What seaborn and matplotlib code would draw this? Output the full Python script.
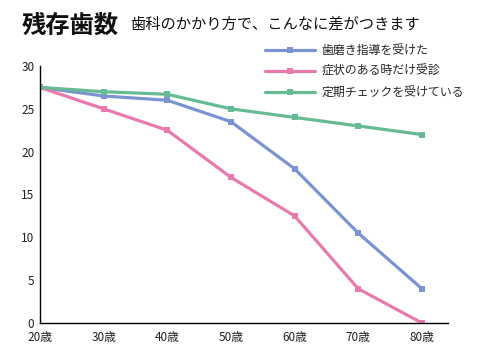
import matplotlib
matplotlib.use("Agg")
import matplotlib.pyplot as plt
import seaborn as sns
import pandas as pd

ages = [20, 30, 40, 50, 60, 70, 80]
age_labels = ["20歳", "30歳", "40歳", "50歳", "60歳", "70歳", "80歳"]
series_names = ["歯磨き指導を受けた", "症状のある時だけ受診", "定期チェックを受けている"]
brushing = [27.5, 26.5, 26.0, 23.5, 18.0, 10.5, 4.0]
symptom_only = [27.5, 25.0, 22.5, 17.0, 12.5, 4.0, 0.0]
regular_check = [27.5, 27.0, 26.7, 25.0, 24.0, 23.0, 22.0]
colors = ["#7b93d0", "#e87aae", "#66bb94"]

sns.set_theme(style="white")
plt.rcParams['font.family'] = ['Noto Sans CJK JP', 'DejaVu Sans']

rows = []
for name, vals in zip(series_names, [brushing, symptom_only, regular_check]):
    for a, v in zip(ages, vals):
        rows.append({"age": a, "teeth": v, "series": name})
df = pd.DataFrame(rows)

fig = plt.figure(figsize=(4.78, 3.46), dpi=100)
ax = fig.add_axes([40/478, 1-323/346, (448-40)/478, (323-66)/346])
sns.lineplot(data=df, x="age", y="teeth", hue="series", hue_order=series_names,
             palette=colors, marker="s", markersize=4.5, markeredgewidth=0,
             linewidth=2.3, ax=ax, legend=True)

ax.set_xlim(20, 84.1)
ax.set_ylim(0, 30)
ax.set_xticks(ages)
ax.set_xticklabels(age_labels)
ax.set_yticks([0, 5, 10, 15, 20, 25, 30])
ax.set_xlabel("")
ax.set_ylabel("")
for s in ["top", "right"]:
    ax.spines[s].set_visible(False)
for s in ["left", "bottom"]:
    ax.spines[s].set_color("black")
    ax.spines[s].set_linewidth(1.0)
ax.tick_params(axis="both", direction="in", length=8, width=1, color="black",
               labelsize=8.5, labelcolor="#222222", pad=4)
ax.tick_params(axis="x", pad=6)

leg = ax.legend(loc="upper left", bbox_to_anchor=(260/478, 1-39/346), bbox_transform=fig.transFigure,
                frameon=False, fontsize=8.6, handlelength=4.2, handletextpad=0.55,
                labelspacing=0.7, borderaxespad=0)
for h in leg.get_lines():
    h.set_linewidth(2.3)

fig.text(22/478, 1-26/346, "残存歯数", fontsize=17.5, fontweight="bold", va="center", ha="left", color="#111111")
fig.text(130/478, 1-24/346, "歯科のかかり方で、こんなに差がつきます", fontsize=11, va="center", ha="left", color="#111111")

fig.savefig("out.png", dpi=100)
